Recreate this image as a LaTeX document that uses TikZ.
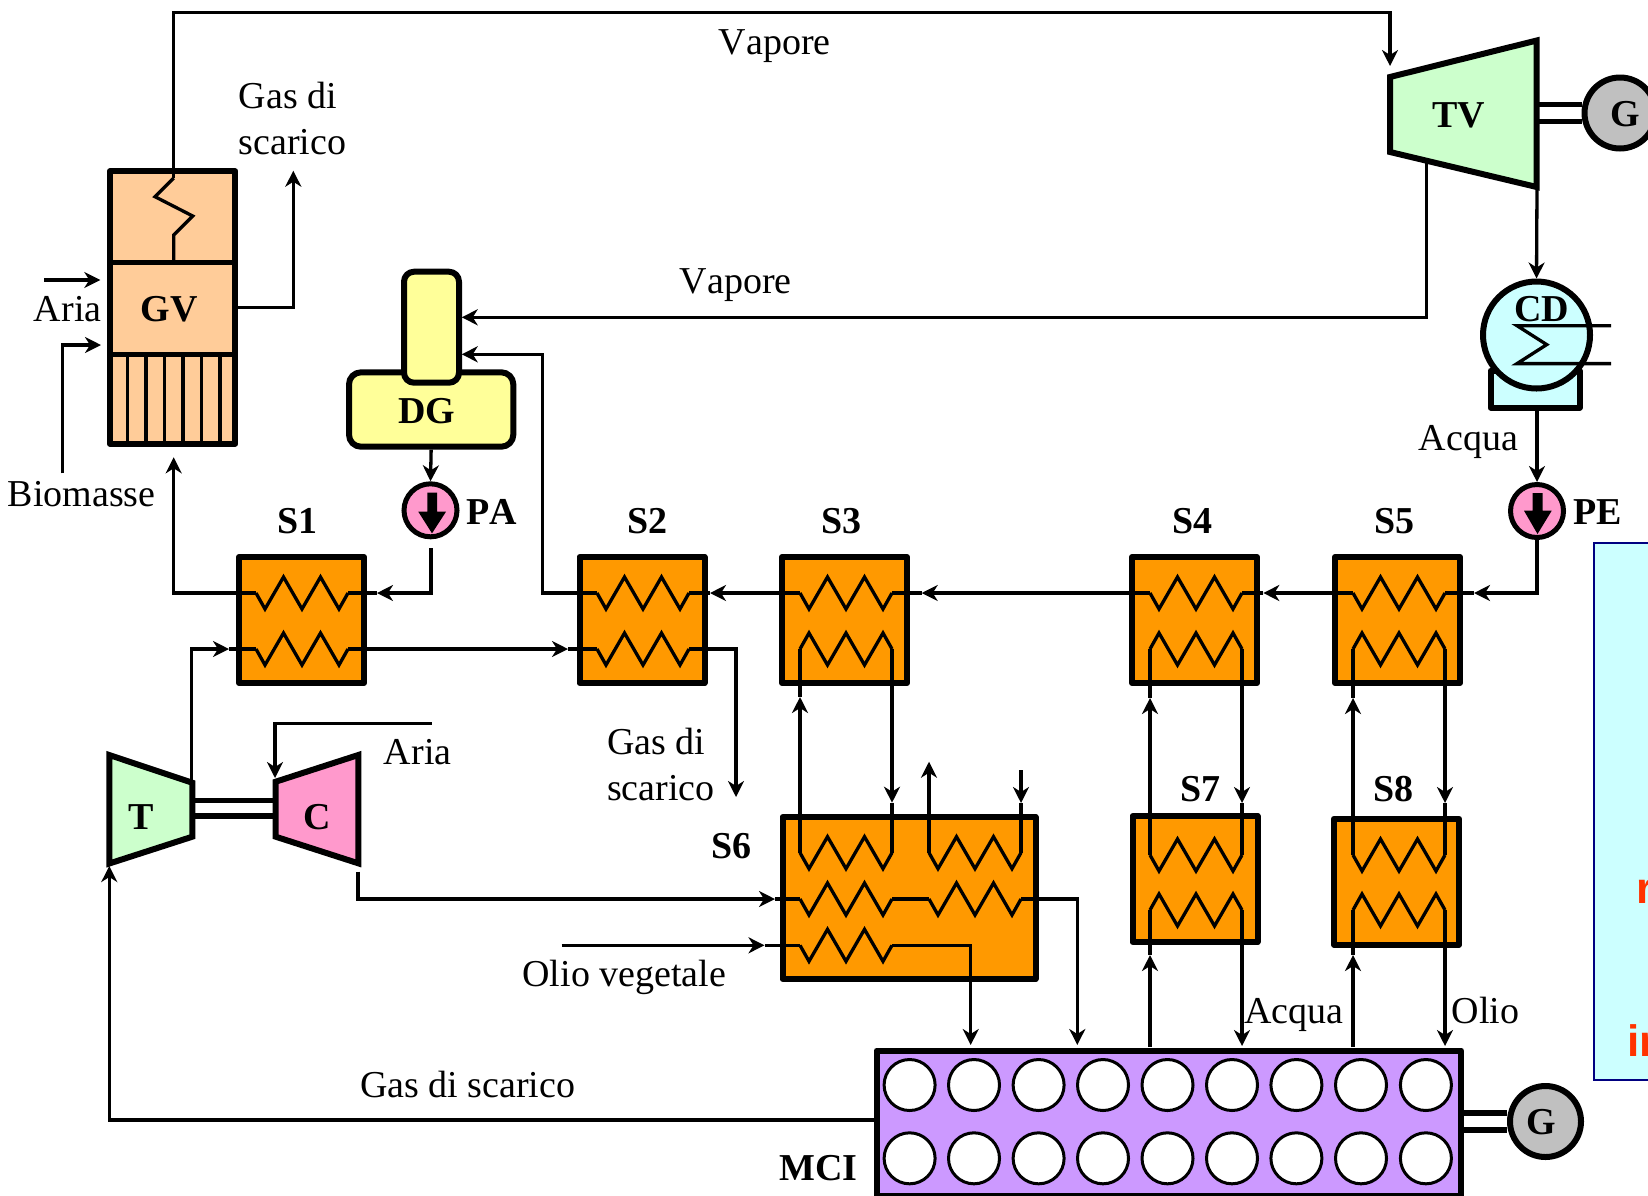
\documentclass[tikz,border=0pt]{standalone}
\usepackage{fontspec}
\setmainfont[Kerning=Off]{Liberation Serif}
\newfontfamily\notefont{Liberation Sans}
\usetikzlibrary{arrows.meta}

\definecolor{hxorange}{HTML}{FF9900}
\definecolor{gvpeach}{HTML}{FFCC99}
\definecolor{tgreen}{HTML}{CCFFCC}
\definecolor{cpink}{HTML}{FF99CC}
\definecolor{cdcyan}{HTML}{CCFFFF}
\definecolor{dgyellow}{HTML}{FFFF99}
\definecolor{mcipurple}{HTML}{CC99FF}
\definecolor{gengrey}{HTML}{C0C0C0}
\definecolor{notenavy}{HTML}{000080}
\definecolor{notered}{HTML}{FF3300}

\tikzset{
    pipe/.style={line width=3.3pt},
    wall/.style={line width=6pt, line join=round},
    shaft/.style={line width=5.5pt},
    hxbox/.style={draw, wall, fill=hxorange, rectangle, inner sep=0pt, minimum width=125pt, minimum height=126pt},
    gen/.style={draw, line width=6pt, fill=gengrey, circle, inner sep=0pt},
    pump/.style={draw, line width=5pt, fill=cpink, circle, inner sep=0pt, minimum size=53pt},
    cyl/.style={line width=3pt, fill=white},
    lab/.style={font=\fontsize{38}{46}\selectfont, inner sep=0pt},
    blab/.style={font=\fontsize{38}{46}\selectfont\bfseries, inner sep=0pt},
    noteline/.style={font=\fontsize{44}{46}\selectfont\notefont\bfseries, text=notered, inner sep=0pt, anchor=base west}
}

% coil: name, x, y, first direction (1 down, -1 up)
\newcommand{\coil}[4]{%
    \coordinate (#1l) at ({#2-46},#3);
    \coordinate (#1r) at ({#2+46},#3);
    \draw[pipe] (#1l) -- ++(9,#4*16) -- ++(18.5,#4*-32) -- ++(18.5,#4*32)
        -- ++(18.5,#4*-32) -- ++(18.5,#4*32) -- ++(9,#4*-16);
}

\begin{document}
\begin{tikzpicture}[x=1pt, y=-1pt, >={Stealth[length=16pt, width=16pt, inset=5pt]}]
    \useasboundingbox (0,0) rectangle (1648,1195);

    % Note box, cut by the page edge
    \node[draw=notenavy, line width=2.5pt, fill=cdcyan, inner sep=0pt,
        minimum width=112pt, minimum height=537pt] (note) at (1650,811.5) {};
    \node[noteline] (notea) at (1636,903) {r};
    \node[noteline] (noteb) at (1627,1056) {in};

    % Steam generator
    \node[draw, wall, fill=gvpeach, inner sep=0pt, minimum width=125.3pt, minimum height=272.4pt] (GVbox) at (172.6,307.5) {};
    \draw[line width=5pt] (110,262.3) -- (235.3,262.3);
    \draw[line width=5pt] (110,354) -- (235.3,354);
    \draw[line width=3.5pt] (127.7,354) -- (127.7,443.7);
    \draw[line width=3.5pt] (146,354) -- (146,443.7);
    \draw[line width=3.5pt] (164.7,354) -- (164.7,443.7);
    \draw[line width=3.5pt] (183,354) -- (183,443.7);
    \draw[line width=3.5pt] (201.3,354) -- (201.3,443.7);
    \draw[line width=3.5pt] (220,354) -- (220,443.7);
    \coordinate (GVtop) at (173.7,178);
    \draw[pipe] (GVtop) -- (155,196.7) -- (192.7,216) -- (173.7,235) -- (173.7,262.3);
    \node[blab] (GV) at (169,309) {GV};

    % Steam turbine and its generator
    \draw[wall, line join=miter, fill=tgreen] (1390,77) -- (1536.7,40.5) -- (1536.7,187) -- (1390,152) -- cycle;
    \node[blab] (TV) at (1459,115) {TV};
    \coordinate (TVin) at (1390,66);
    \coordinate (TVbleed) at (1426.7,160.4);
    \coordinate (TVout) at (1537,187);
    \coordinate (TVr) at (1536.7,113);
    \node[gen, minimum size=71pt] (Gtop) at (1620,113) {};
    \node[blab] (Gtoplab) at (1625,114) {G};
    \draw[shaft] ([yshift=8.4pt]TVr) -- ([yshift=8.4pt]Gtop.west);
    \draw[shaft] ([yshift=-8.4pt]TVr) -- ([yshift=-8.4pt]Gtop.west);

    % Condenser
    \node[draw, wall, fill=cdcyan, inner sep=0pt, minimum width=89pt, minimum height=37pt] (CDbase) at (1535,389) {};
    \node[draw, line width=6pt, fill=cdcyan, circle, inner sep=0pt, minimum size=107pt] (CD) at (1536.5,335) {};
    \coordinate (CDa) at (1611,325.7);
    \coordinate (CDb) at (1611,363.6);
    \draw[pipe] (CDa) -- (1517,325.7) -- (1546.7,344.6) -- (1517,363.6) -- (CDb);
    \node[blab] (CDlab) at (1541.7,309) {CD};

    % Pumps
    \node[pump] (PE) at (1537,511) {};
    \draw[fill=black, draw=none] (1532.7,493) -- (1542.7,493) -- (1542.7,510.7) -- (1551.7,510.7) -- (1537.5,534) -- (1524,510.7) -- (1532.7,510.7) -- cycle;
    \node[blab] (PElab) at (1597.7,512) {PE};
    \node[pump] (PA) at (430.5,510.3) {};
    \draw[fill=black, draw=none] (427.3,492.7) -- (437,492.7) -- (437,511.7) -- (446,511.7) -- (432,533.3) -- (418.3,511.7) -- (427.3,511.7) -- cycle;
    \node[blab] (PAlab) at (491.7,512) {PA};

    % Degasser
    \node[draw, wall, fill=dgyellow, rounded corners=12pt, inner sep=0pt, minimum width=164.3pt, minimum height=74.4pt] (DG) at (431.15,409.5) {};
    \node[draw, wall, fill=dgyellow, rounded corners=10pt, inner sep=0pt, minimum width=55pt, minimum height=111pt] (DGtop) at (431.5,327.2) {};
    \node[blab] (DGlab) at (426.7,411) {DG};

    % Gas turbine and compressor
    \draw[wall, line join=miter, fill=tgreen] (109.3,755) -- (192.3,782.7) -- (192.3,836.7) -- (109.3,863.5) -- cycle;
    \node[blab] (T) at (140.7,816.7) {T};
    \draw[wall, line join=miter, fill=cpink] (275.7,781.7) -- (358.3,755) -- (358.3,863.3) -- (275.7,836.7) -- cycle;
    \node[blab] (C) at (317.5,817) {C};
    \coordinate (Tra) at (192.3,800.7);
    \coordinate (Trb) at (192.3,816);
    \coordinate (Cla) at (275.7,800.7);
    \coordinate (Clb) at (275.7,816);
    \draw[shaft] (Tra) -- (Cla);
    \draw[shaft] (Trb) -- (Clb);
    \coordinate (Tin) at (109.3,866);
    \coordinate (Tout) at (191.7,783);
    \coordinate (Cin) at (275,778);
    \coordinate (Cout) at (358,871.7);

    % Heat exchangers
    \node[hxbox] (S1) at (301.5,620) {};
    \coil{S1a}{302}{593}{1}
    \coil{S1b}{302}{649}{1}
    \node[hxbox] (S2) at (642,620) {};
    \coil{S2a}{643}{593}{1}
    \coil{S2b}{643}{649}{1}
    \node[hxbox] (S3) at (844.5,620) {};
    \coil{S3a}{846}{593}{1}
    \coil{S3b}{846}{649}{-1}
    \node[hxbox] (S4) at (1194.5,620) {};
    \coil{S4a}{1196}{593}{1}
    \coil{S4b}{1196}{649}{-1}
    \node[hxbox] (S5) at (1397.5,620) {};
    \coil{S5a}{1399}{593}{1}
    \coil{S5b}{1399}{649}{-1}
    \node[hxbox] (S7) at (1195,879) {};
    \coil{S7a}{1196}{855}{1}
    \coil{S7b}{1196}{910}{-1}
    \node[hxbox] (S8) at (1396.5,881.7) {};
    \coil{S8a}{1399}{855}{1}
    \coil{S8b}{1399}{910}{-1}
    \node[hxbox, minimum width=253pt, minimum height=162pt] (S6) at (909,898) {};
    \coil{S6a}{846}{852.7}{1}
    \coil{S6b}{975}{852.7}{1}
    \coil{S6c}{846}{899}{1}
    \coil{S6d}{975}{899}{1}
    \coil{S6e}{846}{945.3}{1}

    \node[blab] (S1lab) at (297.9,521.5) {S1};
    \node[blab] (S2lab) at (647.9,521.5) {S2};
    \node[blab] (S3lab) at (841.3,521.5) {S3};
    \node[blab] (S4lab) at (1192.3,521.5) {S4};
    \node[blab] (S5lab) at (1394.1,521.5) {S5};
    \node[blab] (S6lab) at (731.5,846) {S6};
    \node[blab] (S7lab) at (1200.5,789) {S7};
    \node[blab] (S8lab) at (1393.5,789) {S8};

    % Engine
    \node[draw, wall, fill=mcipurple, inner sep=0pt, minimum width=584.6pt, minimum height=145.5pt] (MCI) at (1168.8,1123.25) {};
    \filldraw[cyl] (909.6,1085) circle (25.5pt);
    \filldraw[cyl] (974,1085) circle (25.5pt);
    \filldraw[cyl] (1038.6,1085) circle (25.5pt);
    \filldraw[cyl] (1103,1085) circle (25.5pt);
    \filldraw[cyl] (1167.5,1085) circle (25.5pt);
    \filldraw[cyl] (1232,1085) circle (25.5pt);
    \filldraw[cyl] (1296.4,1085) circle (25.5pt);
    \filldraw[cyl] (1361,1085) circle (25.5pt);
    \filldraw[cyl] (1425.9,1085) circle (25.5pt);
    \filldraw[cyl] (909.6,1158.3) circle (25.5pt);
    \filldraw[cyl] (974,1158.3) circle (25.5pt);
    \filldraw[cyl] (1038.6,1158.3) circle (25.5pt);
    \filldraw[cyl] (1103,1158.3) circle (25.5pt);
    \filldraw[cyl] (1167.5,1158.3) circle (25.5pt);
    \filldraw[cyl] (1232,1158.3) circle (25.5pt);
    \filldraw[cyl] (1296.4,1158.3) circle (25.5pt);
    \filldraw[cyl] (1361,1158.3) circle (25.5pt);
    \filldraw[cyl] (1425.9,1158.3) circle (25.5pt);
    \node[gen, minimum size=71pt] (Gbot) at (1545.5,1121.5) {};
    \node[blab] (Gbotlab) at (1540.8,1122) {G};
    \coordinate (MCIr) at (1461.1,1121.5);
    \draw[shaft] ([yshift=8.5pt]MCIr) -- ([yshift=8.5pt]Gbot.west);
    \draw[shaft] ([yshift=-8.5pt]MCIr) -- ([yshift=-8.5pt]Gbot.west);
    \node[blab] (MCIlab) at (818.2,1167.7) {MCI};

    % Steam lines
    \draw[pipe,->] (GVtop) -- (173.7,12.5) -| (TVin);
    \draw[pipe,->] (TVout) -- (CD.north);
    \coordinate (DGa) at (461.7,317.3);
    \coordinate (DGb) at (461.7,354.3);
    \draw[pipe,->] (TVbleed) |- (DGa);

    % Feed water line
    \draw[pipe,->] (CDbase.south -| TVout) -- (PE.north);
    \coordinate (S5in) at (1474,593);
    \draw[pipe,->] (PE.south) |- (S5in);
    \draw[pipe] (S5in) -- (S5ar);
    \coordinate (S4in) at (1263.3,593);
    \draw[pipe,->] (S5al) -- (S4in);
    \draw[pipe] (S4in) -- (S4ar);
    \coordinate (S3in) at (921.7,593);
    \draw[pipe,->] (S4al) -- (S3in);
    \draw[pipe] (S3in) -- (S3ar);
    \coordinate (S2in) at (710,593);
    \draw[pipe,->] (S3al) -- (S2in);
    \draw[pipe] (S2in) -- (S2ar);
    \draw[pipe,->] (S2al) -- (542.3,593) |- (DGb);
    \draw[pipe,->] (DG.south) -- (PA.north);
    \coordinate (PAout) at (431,548.3);
    \coordinate (S1in) at (377,593);
    \draw[pipe,->] (PAout) |- (S1in);
    \draw[pipe] (S1in) -- (S1ar);
    \coordinate (GVin) at (173.7,457.3);
    \draw[pipe,->] (S1al) -| (GVin);

    % Air and biomass
    \coordinate (ArGVa) at (44.3,280);
    \coordinate (ArGVb) at (100.3,280);
    \draw[pipe,->] (ArGVa) -- (ArGVb);
    \coordinate (BMa) at (62.7,473.3);
    \coordinate (BMb) at (101,345);
    \draw[pipe,->] (BMa) |- (BMb);
    \coordinate (GVgas) at (235.3,307.7);
    \coordinate (GVgasend) at (293.3,170.7);
    \draw[pipe,->] (GVgas) -| (GVgasend);
    \coordinate (ArC) at (431.7,723.3);
    \draw[pipe,->] (ArC) -| (Cin);

    % Exhaust gas
    \coordinate (S1binl) at (229,649);
    \draw[pipe,->] (Tout) |- (S1binl);
    \draw[pipe] (S1binl) -- (S1bl);
    \coordinate (S2bin) at (568,649);
    \draw[pipe,->] (S1br) -- (S2bin);
    \draw[pipe] (S2bin) -- (S2bl);
    \coordinate (S2gasend) at (736,797);
    \draw[pipe,->] (S2br) -| (S2gasend);
    \coordinate (MCIgas) at (877,1120);
    \draw[pipe,->] (MCIgas) -| (Tin);

    % Air through S6 to the engine
    \coordinate (S6cin) at (775,899);
    \draw[pipe,->] (Cout) |- (S6cin);
    \draw[pipe] (S6cin) -- (S6cl);
    \draw[pipe] (S6cr) -- (S6dl);
    \coordinate (MCIair) at (1077.3,1045);
    \draw[pipe,->] (S6dr) -| (MCIair);

    % Vegetable oil
    \coordinate (Oila) at (561.7,945.3);
    \coordinate (S6ein) at (764.5,945.3);
    \draw[pipe,->] (Oila) -- (S6ein);
    \draw[pipe] (S6ein) -- (S6el);
    \coordinate (MCIoil) at (970.7,1045);
    \draw[pipe,->] (S6er) -| (MCIoil);

    % S6 to S3
    \coordinate (S3bin) at (800,697);
    \draw[pipe,->] (S6al) -- (S3bin);
    \draw[pipe] (S3bin) -- (S3bl);
    \coordinate (S6ain) at (892,802.7);
    \draw[pipe,->] (S3br) -- (S6ain);
    \draw[pipe] (S6ain) -- (S6ar);
    \coordinate (S6bout) at (929,761.7);
    \draw[pipe,->] (S6bl) -- (S6bout);
    \coordinate (S6btop) at (1021,770);
    \coordinate (S6bin) at (1021,803);
    \draw[pipe,->] (S6btop) -- (S6bin);
    \draw[pipe] (S6bin) -- (S6br);

    % S7 to S4
    \coordinate (S4bin) at (1150,698);
    \draw[pipe,->] (S7al) -- (S4bin);
    \draw[pipe] (S4bin) -- (S4bl);
    \coordinate (S7ain) at (1242,803);
    \draw[pipe,->] (S4br) -- (S7ain);
    \draw[pipe] (S7ain) -- (S7ar);

    % S8 to S5
    \coordinate (S5bin) at (1353,698);
    \draw[pipe,->] (S8al) -- (S5bin);
    \draw[pipe] (S5bin) -- (S5bl);
    \coordinate (S8ain) at (1445,803);
    \draw[pipe,->] (S5br) -- (S8ain);
    \draw[pipe] (S8ain) -- (S8ar);

    % Engine to S7 and S8
    \coordinate (MCIa) at (1150,1047);
    \coordinate (S7bin) at (1150,955);
    \draw[pipe,->] (MCIa) -- (S7bin);
    \draw[pipe] (S7bin) -- (S7bl);
    \coordinate (MCIb) at (1242,1046);
    \draw[pipe,->] (S7br) -- (MCIb);
    \coordinate (MCIc) at (1353,1047);
    \coordinate (S8bin) at (1353,955);
    \draw[pipe,->] (MCIc) -- (S8bin);
    \draw[pipe] (S8bin) -- (S8bl);
    \coordinate (MCId) at (1445,1046);
    \draw[pipe,->] (S8br) -- (MCId);

    % Labels
    \node[lab] (vapa) at (774.6,46) {Vapore};
    \node[lab] (vapb) at (735.7,285) {Vapore};
    \node[lab, align=left, anchor=west] (gasa) at (238.5,118.5) {Gas di\\scarico};
    \node[lab, align=left, anchor=west] (gasb) at (607,764) {Gas di\\scarico};
    \node[lab] (gasc) at (467.7,1084.6) {Gas di scarico};
    \node[lab] (ariaa) at (67.7,309) {Aria};
    \node[lab] (ariab) at (417.7,751.7) {Aria};
    \node[lab] (bio) at (81.7,494) {Biomasse};
    \node[lab] (olioa) at (624.3,977) {Olio vegetale};
    \node[lab] (acquaa) at (1468.5,442) {Acqua};
    \node[lab] (acquab) at (1293.8,1015) {Acqua};
    \node[lab] (oliob) at (1485.5,1010) {Olio};
\end{tikzpicture}
\end{document}
